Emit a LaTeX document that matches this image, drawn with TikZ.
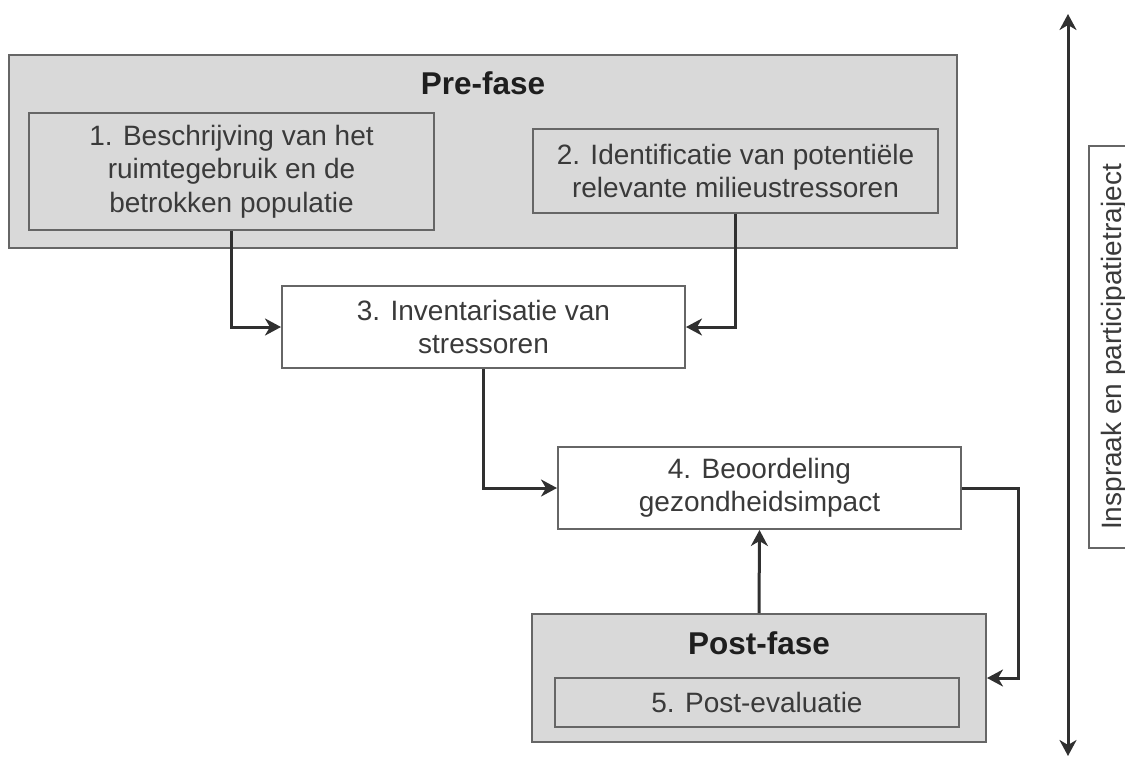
\documentclass[tikz,border=0pt]{standalone}
\usepackage{fontspec}
\setmainfont{Liberation Sans}
\usetikzlibrary{arrows.meta,shadows}
\definecolor{boxfill}{HTML}{D9D9D9}
\definecolor{boxline}{HTML}{666666}
\definecolor{txt}{HTML}{3A3A3A}
\definecolor{ttl}{HTML}{1E1E1E}
\definecolor{conn}{HTML}{303030}
\begin{document}
\begin{tikzpicture}[x=1pt,y=-1pt,
  box/.style={draw=boxline, line width=2pt, inner sep=0pt, align=center, text=txt,
    font=\fontsize{28}{33.5}\selectfont,
    drop shadow={shadow xshift=1.2pt, shadow yshift=-1.2pt, opacity=0.25}},
  graybox/.style={box, fill=boxfill},
  whitebox/.style={box, fill=white},
  phasetitle/.style={inner sep=0pt, text=ttl, font=\bfseries\fontsize{31.5}{36}\selectfont},
  conn/.style={draw=conn, line width=3pt, -{Stealth[length=16pt,width=17pt,inset=5pt]}},
  dblconn/.style={draw=conn, line width=3pt, {Stealth[length=16pt,width=17pt,inset=5pt]}-{Stealth[length=16pt,width=17pt,inset=5pt]}}
]
\useasboundingbox (0,0) rectangle (1125,756);
\clip (0,0) rectangle (1125,756);

% Pre-fase
\node[graybox, minimum width=948pt, minimum height=193pt] (pre) at (483,151.5) {};
\node[phasetitle] (pretitle) at (483,83) {Pre-fase};
\node[graybox, minimum width=405pt, minimum height=117pt] (b1) at (231.5,171.5)
  {1. Beschrijving van het\\ruimtegebruik en de\\betrokken populatie};
\node[graybox, minimum width=405pt, minimum height=84pt] (b2) at (735.5,171)
  {2. Identificatie van potentiële\\relevante milieustressoren};

% steps 3 and 4
\node[whitebox, minimum width=403pt, minimum height=82pt] (b3) at (483.5,327)
  {3. Inventarisatie van\\stressoren};
\node[whitebox, minimum width=403pt, minimum height=82pt] (b4) at (759.5,488)
  {4. Beoordeling\\gezondheidsimpact};

% Post-fase
\node[graybox, minimum width=454pt, minimum height=128pt] (post) at (759,678) {};
\node[phasetitle] (posttitle) at (759,643) {Post-fase};
\node[graybox, minimum width=404pt, minimum height=49pt] (b5) at (757,702.5)
  {5. Post-evaluatie};

% participation
\node[whitebox, rotate=90, minimum width=402pt, minimum height=50pt] (insp) at (1114,347)
  {Inspraak en participatietraject};
\coordinate (top) at (1068,14);
\coordinate (bot) at (1068,756);
\draw[dblconn] (bot) -- (top);

% connectors
\draw[conn] (b1.south) |- (b3.west);
\draw[conn] (b2.south) |- (b3.east);
\draw[conn] (b3.south) |- (b4.west);
\draw[conn] (b4.east) -- ++(56,0) |- (post.east);
\draw[conn] (post.north) -- (b4.south);
\end{tikzpicture}
\end{document}
